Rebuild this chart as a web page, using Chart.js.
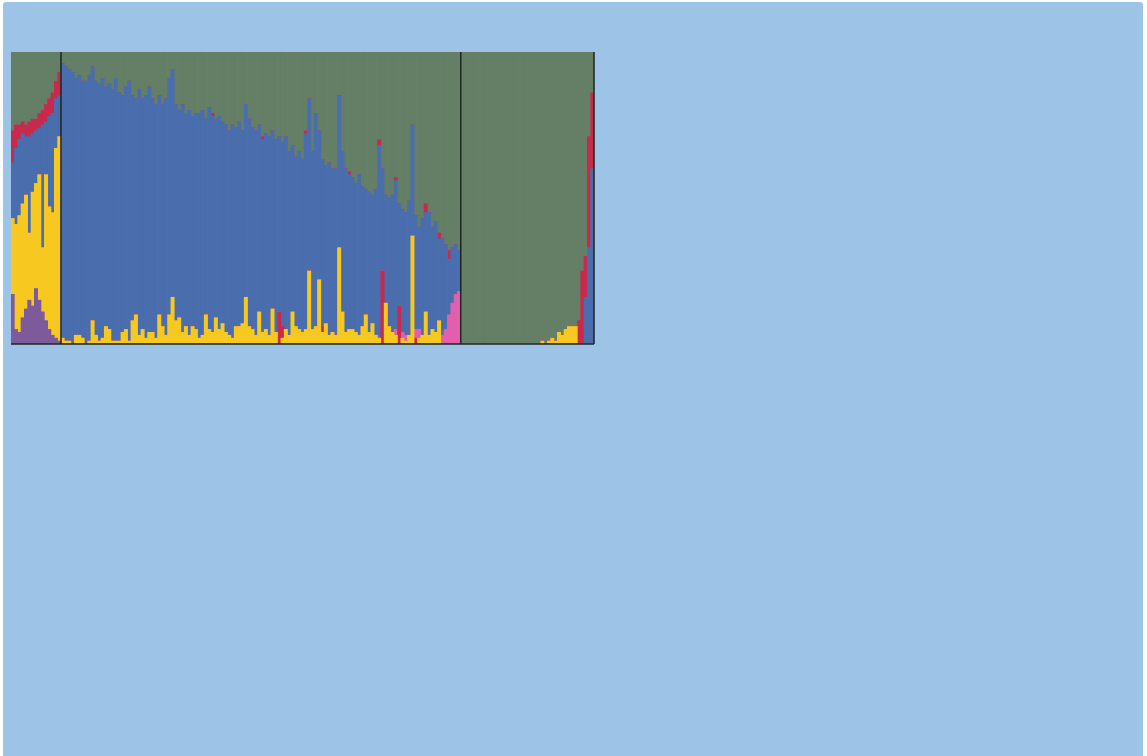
<!DOCTYPE html>
<html>
<head>
<meta charset="utf-8">
<script src="https://cdn.jsdelivr.net/npm/chart.js@4.4.1/dist/chart.umd.min.js"></script>
<style>
  html, body { margin: 0; padding: 0; background: #ffffff; }
  #wrap { position: relative; width: 1147px; height: 756px; overflow: hidden; }
  #panel { position: absolute; left: 3px; top: 2px; width: 1140px; height: 770px;
           background: #9dc3e6; border-radius: 3px; }
  #chartCanvas { position: absolute; left: 0; top: 0; }
</style>
</head>
<body>
<div id="wrap">
  <div id="panel"></div>
  <canvas id="chartCanvas" width="1147" height="756"></canvas>
</div>
<script>
// 群體大小（個體數）
var groupSizes = [15, 120, 40];

// --- 群體 1 ---
var purpleG1 = [17, 5, 4, 9, 12, 15, 13, 19, 15, 11, 8, 5, 3, 2, 1];
var yellowG1 = [26, 36, 40, 39, 39, 23, 39, 36, 43, 22, 50, 42, 42, 65, 70];
var blueG1   = [19, 26, 26, 24, 20, 33, 20, 18, 16, 42, 18, 31, 34, 17, 14];
var redG1    = [11, 8, 5, 4, 4, 5, 5, 4, 5, 5, 6, 6, 7, 6, 8];
var greenG1  = [27, 25, 25, 24, 25, 24, 23, 23, 21, 20, 18, 16, 14, 10, 7];

// --- 群體 2 ---
var yellowG2 = [2, 1, 1, 0, 3, 3, 2, 0, 1, 8, 3, 1, 2, 6, 5, 1, 1, 1, 4, 5,
                1, 8, 10, 3, 5, 2, 4, 4, 2, 10, 6, 3, 10, 16, 8, 9, 4, 6, 3, 6,
                5, 2, 3, 10, 5, 4, 9, 5, 7, 4, 3, 2, 6, 6, 7, 16, 6, 5, 3, 11,
                4, 5, 3, 12, 4, 0, 2, 5, 3, 11, 6, 5, 4, 5, 25, 5, 6, 22, 4, 7,
                3, 4, 3, 33, 11, 4, 5, 5, 4, 3, 6, 10, 4, 7, 3, 2, 0, 14, 6, 4,
                3, 0, 2, 1, 3, 37, 0, 2, 3, 11, 3, 5, 4, 8, 0, 0, 0, 0, 0, 0];
var redLowG2 = [0, 0, 0, 0, 0, 0, 0, 0, 0, 0, 0, 0, 0, 0, 0, 0, 0, 0, 0, 0,
                0, 0, 0, 0, 0, 0, 0, 0, 0, 0, 0, 0, 0, 0, 0, 0, 0, 0, 0, 0,
                0, 0, 0, 0, 0, 0, 0, 0, 0, 0, 0, 0, 0, 0, 0, 0, 0, 0, 0, 0,
                0, 0, 0, 0, 0, 11, 4, 0, 0, 0, 0, 0, 0, 0, 0, 0, 0, 0, 2, 0,
                0, 0, 0, 0, 0, 0, 0, 0, 0, 0, 0, 0, 0, 0, 0, 0, 25, 0, 0, 0,
                0, 13, 0, 0, 0, 0, 2, 0, 0, 0, 0, 0, 0, 0, 0, 0, 0, 0, 0, 0];
var pinkG2   = [0, 0, 0, 0, 0, 0, 0, 0, 0, 0, 0, 0, 0, 0, 0, 0, 0, 0, 0, 0,
                0, 0, 0, 0, 0, 0, 0, 0, 0, 0, 0, 0, 0, 0, 0, 0, 0, 0, 0, 0,
                0, 0, 0, 0, 0, 0, 0, 0, 0, 0, 0, 0, 0, 0, 0, 0, 0, 0, 0, 0,
                0, 0, 0, 0, 0, 0, 0, 0, 0, 0, 0, 0, 0, 0, 0, 0, 0, 0, 0, 0,
                0, 0, 0, 0, 0, 0, 0, 0, 0, 0, 0, 0, 0, 0, 0, 0, 0, 0, 0, 0,
                2, 0, 2, 2, 0, 0, 3, 3, 0, 0, 0, 0, 0, 0, 3, 5, 10, 14, 17, 18];
var blueG2   = [94, 94, 93, 93, 88, 89, 88, 90, 91, 87, 87, 88, 89, 82, 84, 86, 90, 85, 81, 83,
                89, 77, 74, 84, 79, 83, 84, 80, 80, 75, 76, 81, 81, 78, 74, 71, 78, 73, 77, 72,
                74, 77, 77, 67, 76, 74, 68, 73, 69, 71, 70, 73, 68, 70, 66, 66, 71, 69, 70, 64,
                66, 67, 68, 61, 66, 60, 63, 66, 63, 57, 58, 61, 59, 67, 59, 61, 73, 51, 57, 54,
                59, 56, 57, 52, 55, 56, 53, 52, 51, 55, 48, 43, 48, 44, 50, 66, 35, 37, 44, 47,
                51, 35, 42, 42, 46, 38, 39, 35, 40, 34, 42, 35, 38, 28, 33, 29, 19, 19, 17, 14];
var redHighG2 = [0, 0, 0, 0, 0, 0, 0, 0, 0, 0, 0, 0, 0, 0, 0, 0, 0, 0, 0, 0,
                 0, 0, 0, 0, 0, 0, 0, 0, 0, 0, 0, 0, 0, 0, 0, 0, 0, 0, 0, 0,
                 0, 0, 0, 0, 0, 1, 0, 0, 0, 0, 0, 0, 0, 0, 0, 0, 0, 0, 0, 0,
                 1, 0, 0, 0, 0, 0, 0, 0, 0, 0, 0, 0, 0, 1, 0, 0, 0, 0, 0, 0,
                 0, 0, 0, 0, 0, 0, 1, 0, 0, 0, 0, 0, 0, 0, 0, 2, 0, 0, 0, 0,
                 1, 0, 0, 0, 0, 0, 0, 0, 0, 3, 0, 0, 0, 2, 0, 0, 3, 0, 0, 0];
var greenG2  = [4, 5, 6, 7, 9, 8, 10, 10, 8, 5, 10, 11, 9, 12, 11, 13, 9, 14, 15, 12,
                10, 15, 16, 13, 16, 15, 12, 16, 18, 15, 18, 16, 9, 6, 18, 20, 18, 21, 20, 22,
                21, 21, 20, 23, 19, 21, 23, 22, 24, 25, 27, 25, 26, 24, 27, 18, 23, 26, 27, 25,
                29, 28, 29, 27, 30, 29, 31, 29, 34, 32, 36, 34, 37, 27, 16, 34, 21, 27, 37, 39,
                38, 40, 40, 15, 34, 40, 41, 43, 45, 42, 46, 47, 48, 49, 47, 30, 40, 49, 50, 49,
                43, 52, 54, 55, 51, 25, 56, 60, 57, 52, 55, 60, 58, 62, 64, 66, 68, 67, 66, 68];

// --- 群體 3 ---
var yellowG3 = [0, 0, 0, 0, 0, 0, 0, 0, 0, 0, 0, 0, 0, 0, 0, 0, 0, 0, 0, 0,
                0, 0, 0, 0, 1, 0, 1, 2, 1, 4, 3, 5, 6, 6, 6, 0, 0, 0, 0, 0];
var redG3    = [0, 0, 0, 0, 0, 0, 0, 0, 0, 0, 0, 0, 0, 0, 0, 0, 0, 0, 0, 0,
                0, 0, 0, 0, 0, 0, 0, 0, 0, 0, 0, 0, 0, 0, 0, 8, 25, 14, 38, 26];
var blueG3   = [0, 0, 0, 0, 0, 0, 0, 0, 0, 0, 0, 0, 0, 0, 0, 0, 0, 0, 0, 0,
                0, 0, 0, 0, 0, 0, 0, 0, 0, 0, 0, 0, 0, 0, 0, 0, 0, 16, 33, 60];
var greenG3  = [100, 100, 100, 100, 100, 100, 100, 100, 100, 100, 100, 100, 100, 100, 100, 100, 100, 100, 100, 100,
                100, 100, 100, 100, 99, 100, 99, 98, 99, 96, 97, 95, 94, 94, 94, 92, 75, 70, 29, 14];

var zerosG1 = [0, 0, 0, 0, 0, 0, 0, 0, 0, 0, 0, 0, 0, 0, 0];
var zerosG2 = redLowG2.map(function() { return 0; });
var zerosG3 = yellowG3.map(function() { return 0; });

var colors = {
  purple: '#7c5a9c',
  yellow: '#f7c81f',
  redLow: '#c82a4e',
  pink: '#e25fae',
  blue: '#4a6dad',
  redHigh: '#c82a4e',
  green: '#647f66'
};

// 個體標籤
var labels = [];
for (var g = 0; g < groupSizes.length; g++) {
  for (var i = 0; i < groupSizes[g]; i++) labels.push('P' + (g + 1) + '-' + (i + 1));
}

function series(a, b, c) { return a.concat(b, c); }

var seriesList = [
  { key: 'purple',  data: series(purpleG1, zerosG2, zerosG3) },
  { key: 'yellow',  data: series(yellowG1, yellowG2, yellowG3) },
  { key: 'redLow',  data: series(zerosG1, redLowG2, zerosG3) },
  { key: 'pink',    data: series(zerosG1, pinkG2, zerosG3) },
  { key: 'blue',    data: series(blueG1, blueG2, blueG3) },
  { key: 'redHigh', data: series(redG1, redHighG2, redG3) },
  { key: 'green',   data: series(greenG1, greenG2, greenG3) }
];

var datasets = seriesList.map(function(s) {
  return {
    label: s.key,
    data: s.data,
    backgroundColor: colors[s.key],
    borderWidth: 0,
    barPercentage: 1.0,
    categoryPercentage: 1.0
  };
});

// 群體分隔線與底線
var dividerPlugin = {
  id: 'dividers',
  afterDatasetsDraw: function(chart) {
    var ctx = chart.ctx, area = chart.chartArea, xs = chart.scales.x;
    var xsPos = [];
    var idx = 0;
    for (var g = 0; g < groupSizes.length - 1; g++) {
      idx += groupSizes[g];
      xsPos.push((xs.getPixelForValue(idx - 1) + xs.getPixelForValue(idx)) / 2);
    }
    xsPos.push(area.right);
    ctx.save();
    ctx.strokeStyle = '#1e2622';
    ctx.lineWidth = 1.5;
    ctx.beginPath();
    xsPos.forEach(function(x) {
      ctx.moveTo(x, area.top);
      ctx.lineTo(x, area.bottom);
    });
    ctx.moveTo(area.left, area.bottom);
    ctx.lineTo(area.right, area.bottom);
    ctx.stroke();
    ctx.restore();
  }
};

new Chart(document.getElementById('chartCanvas').getContext('2d'), {
  type: 'bar',
  data: { labels: labels, datasets: datasets },
  options: {
    responsive: false,
    animation: false,
    layout: { padding: { left: 11, top: 52, right: 553, bottom: 412 } },
    plugins: { legend: { display: false }, tooltip: { enabled: false } },
    scales: {
      x: { stacked: true, display: false, offset: true },
      y: { stacked: true, display: false, min: 0, max: 100 }
    }
  },
  plugins: [dividerPlugin]
});
</script>
</body>
</html>
